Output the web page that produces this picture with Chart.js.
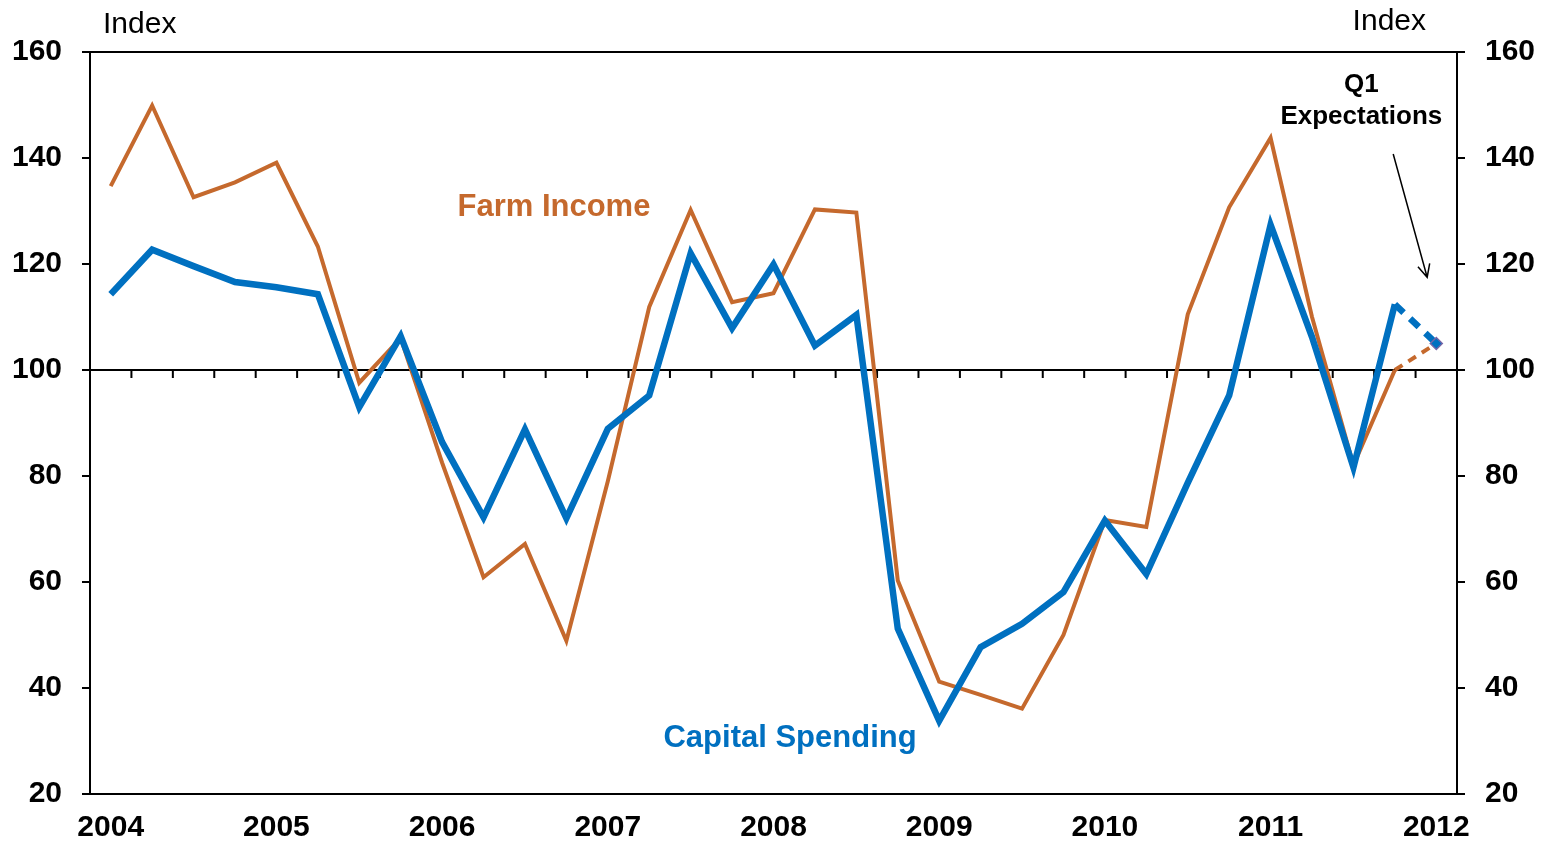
<!DOCTYPE html>
<html>
<head>
<meta charset="utf-8">
<title>Farm Income and Capital Spending</title>
<script src="https://cdn.jsdelivr.net/npm/chart.js@4.4.0/dist/chart.umd.min.js"></script>
<style>
  body { margin: 0; background: #fff; }
  #wrap { position: relative; width: 1544px; height: 847px; }
</style>
</head>
<body>
<div id="wrap"><canvas id="myChart"></canvas></div>
<script>
// quarterly, 2004 Q1 .. 2012 Q1 (last point = Q1 expectations)
let quarters = [];
for (let yr = 2004; yr <= 2012; yr++) {
	for (let q = 1; q <= 4; q++) {
		if (yr === 2012 && q > 1) break;
		quarters.push(yr + ' Q' + q);
	}
}

let capitalSpending = [114.3, 122.7, 119.6, 116.6, 115.6, 114.3, 93.0, 106.4,
	86.4, 72.2, 88.8, 72.0, 88.9, 95.2, 122.0, 107.9,
	119.9, 104.6, 110.4, 51.2, 33.8, 47.7, 52.1, 58.1,
	71.6, 61.5, 78.7, 95.2, 127.4, 106.2, 81.6, 112.4,
	105.0];

let farmIncome = [134.7, 149.9, 132.6, 135.4, 139.1, 123.3, 97.6, 106.0,
	82.5, 60.9, 67.2, 48.9, 79.0, 111.9, 130.2, 112.8,
	114.5, 130.3, 129.7, 60.3, 41.2, 38.7, 36.1, 50.0,
	71.7, 70.4, 110.5, 130.7, 143.8, 110.0, 82.0, 100.0,
	105.0];

let yTicks = [20, 40, 60, 80, 100, 120, 140, 160];

const ORANGE = '#C5692D';
const BLUE = '#0070C0';
const FONT = "'Liberation Sans', Arial, sans-serif";
const last = quarters.length - 1;

// frame, the 100 line with its hanging ticks, and the text annotations
const decor = {
	id: 'decor',
	beforeDatasetsDraw(chart) {
		const { ctx, chartArea: a, scales: { x, y } } = chart;
		ctx.save();
		ctx.strokeStyle = '#000';
		ctx.lineWidth = 2;
		ctx.strokeRect(a.left, a.top, a.right - a.left, a.bottom - a.top);
		const y100 = y.getPixelForValue(100);
		ctx.beginPath();
		ctx.moveTo(a.left, y100);
		ctx.lineTo(a.right, y100);
		for (let i = 1; i < quarters.length; i++) {
			const px = (x.getPixelForValue(i - 1) + x.getPixelForValue(i)) / 2;
			ctx.moveTo(px, y100);
			ctx.lineTo(px, y100 + 8);
		}
		ctx.stroke();
		ctx.restore();
	},
	afterDatasetsDraw(chart) {
		const { ctx, chartArea: a, scales: { x, y } } = chart;
		ctx.save();
		ctx.fillStyle = '#000';
		ctx.font = '30px ' + FONT;
		ctx.textBaseline = 'alphabetic';
		ctx.textAlign = 'left';
		ctx.fillText('Index', a.left + 13, 33);
		ctx.textAlign = 'right';
		ctx.fillText('Index', a.right - 31, 30);

		ctx.textAlign = 'center';
		ctx.textBaseline = 'middle';
		ctx.font = 'bold 31px ' + FONT;
		ctx.fillStyle = ORANGE;
		ctx.fillText('Farm Income', x.getPixelForValue(10.7), y.getPixelForValue(130.6));
		ctx.fillStyle = BLUE;
		ctx.fillText('Capital Spending', x.getPixelForValue(16.4), y.getPixelForValue(30.4));

		ctx.fillStyle = '#000';
		ctx.font = 'bold 26px ' + FONT;
		ctx.fillText('Q1', x.getPixelForValue(30.19), y.getPixelForValue(153.8));
		ctx.fillText('Expectations', x.getPixelForValue(30.19), y.getPixelForValue(147.7));

		// arrow
		const x0 = x.getPixelForValue(30.96), y0 = y.getPixelForValue(140.75);
		const x1 = x.getPixelForValue(31.78), y1 = y.getPixelForValue(117.5);
		const ang = Math.atan2(y1 - y0, x1 - x0);
		ctx.strokeStyle = '#000';
		ctx.lineWidth = 1.5;
		ctx.beginPath();
		ctx.moveTo(x0, y0);
		ctx.lineTo(x1, y1);
		ctx.moveTo(x1 - 14 * Math.cos(ang - 0.45), y1 - 14 * Math.sin(ang - 0.45));
		ctx.lineTo(x1, y1);
		ctx.lineTo(x1 - 14 * Math.cos(ang + 0.45), y1 - 14 * Math.sin(ang + 0.45));
		ctx.stroke();
		ctx.restore();
	}
};

function yAxis(pos, width) {
	return {
		position: pos,
		min: 20,
		max: 160,
		afterBuildTicks: (s) => { s.ticks = yTicks.map(v => ({ value: v })); },
		ticks: { color: '#000', font: { family: FONT, size: 30, weight: 'bold' }, padding: 20 },
		grid: { drawOnChartArea: false, drawTicks: true, tickLength: 8, color: '#000', lineWidth: 2 },
		border: { display: true, color: '#000', width: 2 },
		afterFit: (s) => { s.width = width; }
	};
}

let ctx = document.getElementById('myChart').getContext('2d');
let myChart = new Chart(ctx, {
	type: 'line',
	data: {
		labels: quarters,
		datasets: [{
			label: 'Capital Spending',
			data: capitalSpending,
			borderColor: BLUE,
			borderWidth: 6.5,
			tension: 0,
			pointRadius: (c) => c.dataIndex === last ? 6 : 0,
			pointStyle: 'rectRot',
			pointBackgroundColor: BLUE,
			pointBorderColor: '#7466A8',
			pointBorderWidth: 1.5,
			segment: { borderDash: (c) => c.p1DataIndex === last ? [12, 9] : undefined }
		}, {
			label: 'Farm Income',
			data: farmIncome,
			borderColor: ORANGE,
			borderWidth: 4,
			tension: 0,
			pointRadius: 0,
			segment: { borderDash: (c) => c.p1DataIndex === last ? [9, 7] : undefined }
		}]
	},
	options: {
		responsive: true,
		maintainAspectRatio: false,
		animation: false,
		layout: { padding: { top: 52, left: 0, right: 0, bottom: 0 } },
		plugins: { legend: { display: false }, tooltip: { enabled: false } },
		scales: {
			x: {
				type: 'category',
				offset: true,
				grid: { display: false, drawTicks: false },
				border: { display: false },
				ticks: {
					color: '#000',
					font: { family: FONT, size: 30, weight: 'bold' },
					padding: 16,
					autoSkip: false,
					maxRotation: 0,
					callback: function (value) {
						let lab = this.getLabelForValue(value);
						return lab.endsWith('Q1') ? lab.slice(0, 4) : '';
					}
				},
				afterFit: (s) => { s.height = 53; }
			},
			y: yAxis('left', 90),
			y2: yAxis('right', 87)
		}
	},
	plugins: [decor]
});
</script>
</body>
</html>
